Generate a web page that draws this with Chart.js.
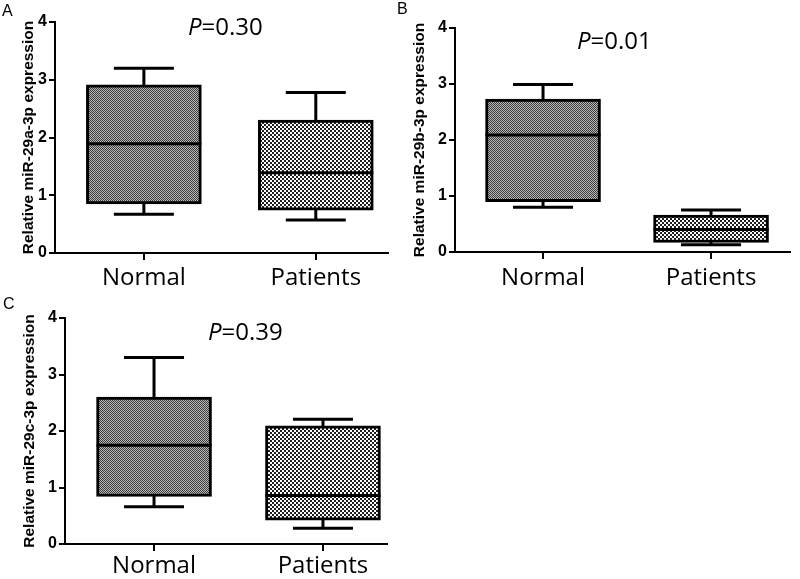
<!DOCTYPE html>
<html>
<head>
<meta charset="utf-8">
<script src="https://cdn.jsdelivr.net/npm/chart.js@4.4.1/dist/chart.umd.min.js"></script>
<style>
  body { margin: 0; background: #fff; }
  #page { position: relative; width: 800px; height: 579px; overflow: hidden; }
  canvas { position: absolute; }
  .tag { position: absolute; font-family: "Liberation Sans", Arial, sans-serif; font-size: 16px; line-height: 1; color: #000; }
  .pval { position: absolute; font-family: "Open Sans", sans-serif; font-size: 24px; line-height: 1; color: #000; }
</style>
</head>
<body>
<div id="page">
  <canvas id="chartA" width="400" height="290" style="left:0;top:0"></canvas>
  <canvas id="chartB" width="400" height="290" style="left:400px;top:0"></canvas>
  <canvas id="chartC" width="400" height="289" style="left:0;top:290px"></canvas>
  <div class="tag" style="left:2px;top:3px">A</div>
  <div class="tag" style="left:397px;top:1px">B</div>
  <div class="tag" style="left:3px;top:296px">C</div>
  <div class="pval" style="left:188px;top:14px"><i>P</i>=0.30</div>
  <div class="pval" style="left:577px;top:28px"><i>P</i>=0.01</div>
  <div class="pval" style="left:208px;top:319px"><i>P</i>=0.39</div>
</div>
<script>
const groups = ['Normal', 'Patients'];

// miR-29a-3p
const aLow = [0.67, 0.57];
const aQ1 = [0.85, 0.74];
const aMedian = [1.89, 1.39];
const aQ3 = [2.91, 2.30];
const aHigh = [3.20, 2.78];

// miR-29b-3p
const bLow = [0.80, 0.13];
const bQ1 = [0.90, 0.17];
const bMedian = [2.09, 0.40];
const bQ3 = [2.73, 0.66];
const bHigh = [2.99, 0.75];

// miR-29c-3p
const cLow = [0.66, 0.28];
const cQ1 = [0.84, 0.42];
const cMedian = [1.75, 0.86];
const cQ3 = [2.60, 2.09];
const cHigh = [3.30, 2.21];

const yTicks = [0, 1, 2, 3, 4];

function checker(dark, light, cell) {
    const c = document.createElement('canvas');
    c.width = c.height = cell * 2;
    const g = c.getContext('2d');
    g.fillStyle = light;
    g.fillRect(0, 0, cell * 2, cell * 2);
    g.fillStyle = dark;
    g.fillRect(0, 0, cell, cell);
    g.fillRect(cell, cell, cell, cell);
    return g.createPattern(c, 'repeat');
}

// whiskers go under the boxes, medians on top
const boxWhiskers = {
    id: 'boxWhiskers',
    beforeDatasetsDraw(chart, args, opts) {
        const ctx = chart.ctx, x = chart.scales.x, y = chart.scales.y;
        ctx.save();
        ctx.strokeStyle = '#000';
        ctx.lineWidth = 3;
        opts.low.forEach((lo, i) => {
            const cx = x.getPixelForValue(i);
            const yLo = y.getPixelForValue(lo), yHi = y.getPixelForValue(opts.high[i]);
            ctx.beginPath();
            ctx.moveTo(cx, yLo); ctx.lineTo(cx, yHi);
            ctx.moveTo(cx - opts.cap / 2, yLo); ctx.lineTo(cx + opts.cap / 2, yLo);
            ctx.moveTo(cx - opts.cap / 2, yHi); ctx.lineTo(cx + opts.cap / 2, yHi);
            ctx.stroke();
        });
        ctx.restore();
    },
    afterDatasetsDraw(chart, args, opts) {
        const ctx = chart.ctx, y = chart.scales.y;
        const bars = chart.getDatasetMeta(0).data;
        ctx.save();
        ctx.strokeStyle = '#000';
        ctx.lineWidth = 3;
        opts.median.forEach((m, i) => {
            const b = bars[i];
            const py = y.getPixelForValue(m);
            ctx.beginPath();
            ctx.moveTo(b.x - b.width / 2, py);
            ctx.lineTo(b.x + b.width / 2, py);
            ctx.stroke();
        });
        ctx.restore();
    }
};

function boxChart(id, cfg) {
    return new Chart(document.getElementById(id), {
        type: 'bar',
        data: {
            datasets: [{
                data: groups.map((g, i) => ({x: i, y: [cfg.q1[i], cfg.q3[i]]})),
                backgroundColor: [checker('#383838', '#bcbcbc', 1), checker('#1e1e1e', '#ffffff', 2)],
                borderColor: '#000',
                borderWidth: 3,
                borderSkipped: false,
                barThickness: 115
            }]
        },
        plugins: [boxWhiskers],
        options: {
            responsive: false,
            animation: false,
            layout: {padding: {left: 0, top: cfg.top, right: cfg.right, bottom: 0}},
            plugins: {
                legend: {display: false},
                tooltip: {enabled: false},
                boxWhiskers: {low: cfg.low, high: cfg.high, median: cfg.median, cap: 60}
            },
            scales: {
                x: {
                    type: 'linear',
                    offset: false,
                    min: cfg.xMin,
                    max: cfg.xMax,
                    afterFit: s => { s.height = cfg.xHeight; },
                    border: {color: '#000', width: 2},
                    grid: {offset: false, drawOnChartArea: false, color: '#000', lineWidth: 2, tickLength: 7},
                    ticks: {
                        stepSize: 1,
                        includeBounds: false,
                        padding: cfg.labelPad,
                        color: '#000',
                        font: {family: 'Open Sans', size: 24},
                        callback: v => groups[v] ?? ''
                    }
                },
                y: {
                    min: 0,
                    max: 4,
                    afterFit: s => { s.width = cfg.yWidth; },
                    afterBuildTicks: s => { s.ticks = yTicks.map(v => ({value: v})); },
                    border: {color: '#000', width: 2},
                    grid: {drawOnChartArea: false, color: '#000', lineWidth: 2, tickLength: 6},
                    ticks: {
                        padding: 2,
                        color: '#000',
                        font: {family: 'Liberation Sans', size: 16, weight: 'bold'}
                    },
                    title: {
                        display: true,
                        text: cfg.title,
                        color: '#000',
                        padding: {top: cfg.titlePad, bottom: 0},
                        font: {family: 'Liberation Sans', size: 15.5, weight: 'bold', lineHeight: 1.2}
                    }
                }
            }
        }
    });
}

boxChart('chartA', {
    title: 'Relative miR-29a-3p expression',
    low: aLow, q1: aQ1, median: aMedian, q3: aQ3, high: aHigh,
    top: 22, right: 12, xHeight: 37, yWidth: 55, titlePad: 19, labelPad: 4,
    xMin: -0.517, xMax: 1.42
});
boxChart('chartB', {
    title: 'Relative miR-29b-3p expression',
    low: bLow, q1: bQ1, median: bMedian, q3: bQ3, high: bHigh,
    top: 28, right: 10, xHeight: 38, yWidth: 55, titlePad: 10, labelPad: 5,
    xMin: -0.524, xMax: 1.47
});
boxChart('chartC', {
    title: 'Relative miR-29c-3p expression',
    low: cLow, q1: cQ1, median: cMedian, q3: cQ3, high: cHigh,
    top: 28, right: 13, xHeight: 35, yWidth: 65, titlePad: 20, labelPad: 1,
    xMin: -0.527, xMax: 1.379
});
</script>
</body>
</html>
